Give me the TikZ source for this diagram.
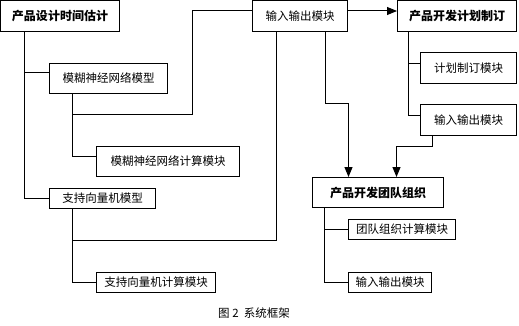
\documentclass[tikz,border=0pt]{standalone}
\usepackage{fontspec}
\setmainfont{Noto Sans CJK SC}
\usetikzlibrary{arrows.meta}
\begin{document}
\begin{tikzpicture}[x=1pt,y=-1pt,line width=1pt,>={Triangle[length=10pt,width=8pt]},
  every node/.style={draw,inner sep=0pt,font=\fontsize{11.5}{13}\selectfont},
  head/.style={font=\fontsize{12}{14}\selectfont\bfseries}]
\useasboundingbox (0,0) rectangle (519,326);
\node[head,minimum width=119pt,minimum height=31pt] (est) at (60,16) {产品设计时间估计};
\node[minimum width=118pt,minimum height=30pt] (fnn) at (108.5,78.5) {模糊神经网络模型};
\node[minimum width=143pt,minimum height=30pt] (fnnc) at (168,161.5) {模糊神经网络计算模块};
\node[minimum width=106pt,minimum height=20pt] (svm) at (102.5,198.5) {支持向量机模型};
\node[minimum width=119pt,minimum height=20pt] (svmc) at (156,282) {支持向量机计算模块};
\node[minimum width=95pt,minimum height=31pt] (io) at (300,16) {输入输出模块};
\node[head,minimum width=119pt,minimum height=31pt] (plan) at (457,16) {产品开发计划制订};
\node[minimum width=96pt,minimum height=31pt] (planc) at (468.5,68) {计划制订模块};
\node[minimum width=96pt,minimum height=31pt] (planio) at (468.5,120) {输入输出模块};
\node[head,minimum width=131pt,minimum height=30pt] (team) at (378,192.5) {产品开发团队组织};
\node[minimum width=107pt,minimum height=20pt] (teamc) at (402,229.5) {团队组织计算模块};
\node[minimum width=83pt,minimum height=20pt] (teamio) at (390,282.5) {输入输出模块};
\node[draw=none] (cap) at (254,313) {图 2\ \ 系统框架};
\draw ([xshift=-35.5pt]est.south) |- ([yshift=6pt]fnn.west);
\draw ([xshift=-35.5pt]est.south) |- (svm.west);
\draw ([xshift=-36.5pt]fnn.south) |- ([yshift=5.5pt]fnnc.west);
\draw ([xshift=-36.5pt]fnn.south) |- (192,115) |- ([yshift=5pt]io.west);
\draw ([xshift=-30.5pt]svm.south) |- (svmc.west);
\draw ([xshift=-24pt]io.south) |- ([xshift=-30.5pt,yshift=-31pt]svm.south);
\draw[->] ([yshift=5pt]io.east) -- ([yshift=5pt]plan.west);
\draw[->] ([xshift=25pt]io.south) -- ++(0,72) -| ([xshift=-29.5pt]team.north);
\draw ([xshift=-49pt]plan.south) |- ([yshift=4.5pt]planc.west);
\draw ([xshift=-49pt]plan.south) |- ([yshift=4.5pt]planio.west);
\draw[->] ([xshift=-36.5pt]planio.south) -- ++(0,10) -| ([xshift=18.5pt]team.north);
\draw ([xshift=-54pt]team.south) |- (teamc.west);
\draw ([xshift=-54pt]team.south) |- (teamio.west);
\end{tikzpicture}
\end{document}
